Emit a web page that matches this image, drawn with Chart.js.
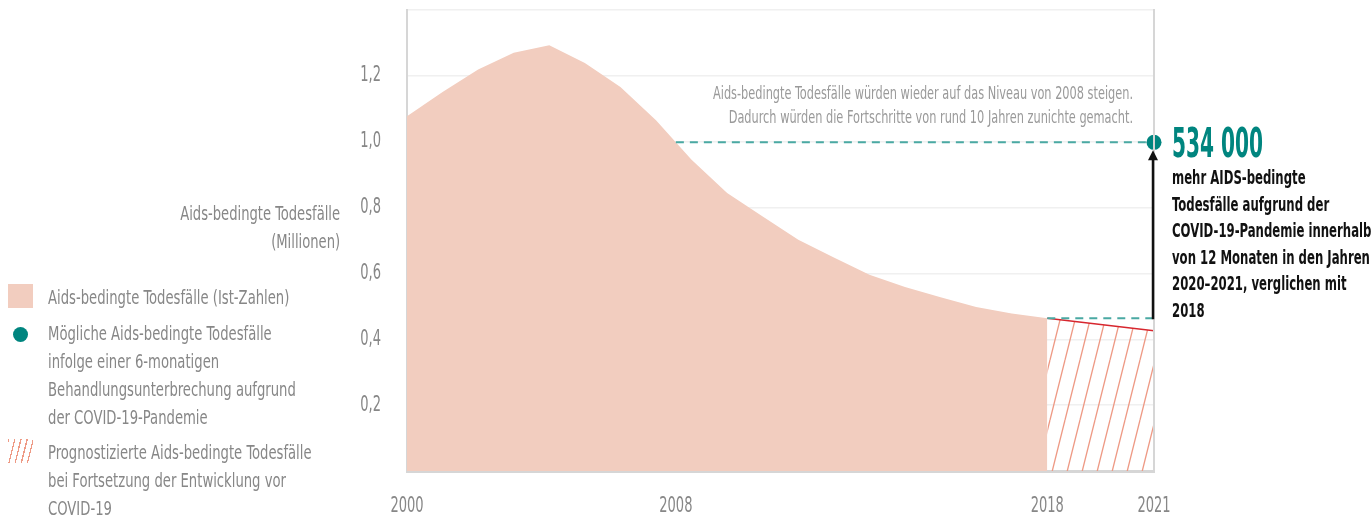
<!DOCTYPE html>
<html lang="de">
<head>
<meta charset="utf-8">
<script src="https://cdn.jsdelivr.net/npm/chart.js@4"></script>
<style>
  html, body { margin: 0; padding: 0; background: #fff; }
  #wrap { position: relative; width: 1372px; height: 517px; overflow: hidden;
          font-family: "DejaVu Sans Condensed", "DejaVu Sans", sans-serif; }
  #wrap canvas { position: absolute; left: 0; top: 0; }
  .t { position: absolute; white-space: nowrap; color: #878787; font-size: 20px; line-height: 28px; }
  .l { transform: scaleX(0.733); transform-origin: left center; }
  .r { transform: scaleX(0.73); transform-origin: right center; text-align: right; }
  .note { font-size: 18px; line-height: 24px; color: #9a9a9a; transform: scaleX(0.70); }
  .big { font-weight: bold; color: #00857f; font-size: 40px; line-height: 40px; transform: scaleX(0.56); }
  .bold { font-weight: bold; color: #111; line-height: 26.6px; transform: scaleX(0.65); }
  .sw { position: absolute; }
</style>
</head>
<body>
<div id="wrap">
  <canvas id="chart" width="1372" height="517"></canvas>

  <div class="t r" style="right:1032px; top:199px;">Aids-bedingte Todesfälle<br>(Millionen)</div>

  <div class="sw" style="left:8px; top:284px; width:25px; height:24px; background:#f2cdbf;"></div>
  <div class="t l" style="left:48px; top:283px;">Aids-bedingte Todesfälle (Ist-Zahlen)</div>

  <div class="sw" style="left:13px; top:327px; width:15px; height:15px; border-radius:50%; background:#00857f;"></div>
  <div class="t l" style="left:48px; top:319px;">Mögliche Aids-bedingte Todesfälle<br>infolge einer 6-monatigen<br>Behandlungsunterbrechung aufgrund<br>der COVID-19-Pandemie</div>

  <div class="sw" style="left:8px; top:439px; width:25px; height:24px; background:repeating-linear-gradient(104deg, #ee9a85 0 1.3px, transparent 1.3px 6px);"></div>
  <div class="t l" style="left:48px; top:438px;">Prognostizierte Aids-bedingte Todesfälle<br>bei Fortsetzung der Entwicklung vor<br>COVID-19</div>

  <div class="t r note" style="right:239px; top:81px;">Aids-bedingte Todesfälle würden wieder auf das Niveau von 2008 steigen.<br>Dadurch würden die Fortschritte von rund 10 Jahren zunichte gemacht.</div>

  <div class="t l big" style="left:1172px; top:123px;">534 000</div>
  <div class="t l bold" style="left:1172px; top:164px;">mehr AIDS-bedingte<br>Todesfälle aufgrund der<br>COVID-19-Pandemie innerhalb<br>von 12 Monaten in den Jahren<br>2020–2021, verglichen mit<br>2018</div>
</div>

<script>
// actual deaths (millions)
const years  = [2000, 2001, 2002, 2003, 2004, 2005, 2006, 2007, 2008, 2009,
                2010, 2011, 2012, 2013, 2014, 2015, 2016, 2017, 2018];
const deaths = [1.077, 1.151, 1.219, 1.270, 1.293, 1.239, 1.166, 1.065, 0.945, 0.844,
                0.773, 0.702, 0.648, 0.596, 0.559, 0.528, 0.498, 0.478, 0.464];

// projection if pre-COVID trend continued
const projYears  = [2018, 2021];
const projDeaths = [0.464, 0.426];

// extra deaths from a 6-month treatment interruption (millions)
const extraDeaths = 0.534;
const extraYear   = 2021;

// axis ticks
const yTicks      = [0.2, 0.4, 0.6, 0.8, 1.0, 1.2];
const xTickLabels = ['2000', '2008', '2018', '2021'];

const baseVal = deaths[deaths.length - 1];
const peakVal = baseVal + extraDeaths;

// where the actual curve last sat at the projected level (the "2008" level)
let crossYear = years[0];
for (let i = 1; i < deaths.length; i++) {
  if (deaths[i - 1] >= peakVal && deaths[i] < peakVal) {
    crossYear = years[i - 1] + (deaths[i - 1] - peakVal) / (deaths[i - 1] - deaths[i]);
  }
}
const xTickValues = [2000, crossYear, 2018, 2021];

/* ── hatch pattern ── */
function hatch() {
  const c = document.createElement('canvas');
  c.width = 15; c.height = 60;
  const g = c.getContext('2d');
  g.strokeStyle = '#ee9a85';
  g.lineWidth = 1.3;
  [-15, 0, 15].forEach(o => {
    g.beginPath();
    g.moveTo(o, 60); g.lineTo(o + 15, 0);
    g.stroke();
  });
  return g.createPattern(c, 'repeat');
}

const FONT = '21px "DejaVu Sans Condensed", "DejaVu Sans", sans-serif';

function label(ctx, txt, x, y, align) {
  ctx.save();
  ctx.translate(x, y);
  ctx.scale(0.69, 1);
  ctx.font = FONT;
  ctx.fillStyle = '#878787';
  ctx.textAlign = align;
  ctx.textBaseline = 'middle';
  ctx.fillText(txt, 0, 0);
  ctx.restore();
}

/* ── right border, arrow, tick labels ── */
const extras = {
  id: 'extras',
  afterDraw(chart) {
    const { ctx, chartArea: a, scales: { x, y } } = chart;
    ctx.save();
    ctx.strokeStyle = '#d6d6d6';
    ctx.lineWidth = 2;
    ctx.beginPath();
    ctx.moveTo(a.right, a.top - 1); ctx.lineTo(a.right, a.bottom + 1);
    ctx.stroke();

    const ax = x.getPixelForValue(extraYear) - 1;
    const y0 = y.getPixelForValue(baseVal);
    const y1 = y.getPixelForValue(peakVal) + 8;
    ctx.strokeStyle = '#111';
    ctx.fillStyle = '#111';
    ctx.lineWidth = 2.5;
    ctx.beginPath();
    ctx.moveTo(ax, y0 + 1); ctx.lineTo(ax, y1 + 8);
    ctx.stroke();
    ctx.beginPath();
    ctx.moveTo(ax, y1); ctx.lineTo(ax - 5, y1 + 10); ctx.lineTo(ax + 5, y1 + 10);
    ctx.closePath(); ctx.fill();
    ctx.restore();

    yTicks.forEach(v => label(ctx, v.toFixed(1).replace('.', ','), a.left - 26, y.getPixelForValue(v), 'right'));
    xTickValues.forEach((v, i) => label(ctx, xTickLabels[i], x.getPixelForValue(v), 507, 'center'));
  }
};

const teal = '#4aa9a3';

new Chart(document.getElementById('chart'), {
  type: 'line',
  data: {
    datasets: [
      {
        type: 'scatter',
        data: [{ x: extraYear, y: peakVal }],
        pointRadius: 7.5, pointHoverRadius: 7.5,
        backgroundColor: '#00857f', borderWidth: 0,
        clip: false,
      },
      {
        data: [{ x: crossYear, y: peakVal }, { x: extraYear, y: peakVal }],
        borderColor: teal, borderWidth: 2, borderDash: [8, 6],
        pointRadius: 0, fill: false,
      },
      {
        data: [{ x: projYears[0], y: baseVal }, { x: extraYear, y: baseVal }],
        borderColor: teal, borderWidth: 2, borderDash: [8, 6],
        pointRadius: 0, fill: false,
      },
      {
        data: projYears.map((v, i) => ({ x: v, y: projDeaths[i] })),
        borderColor: '#d7262e', borderWidth: 1.5,
        backgroundColor: hatch(),
        pointRadius: 0, fill: 'origin',
      },
      {
        data: years.map((v, i) => ({ x: v, y: deaths[i] })),
        borderWidth: 0, borderColor: 'rgba(0,0,0,0)',
        backgroundColor: '#f2cdbf',
        pointRadius: 0, fill: 'origin', tension: 0,
      },
    ],
  },
  options: {
    responsive: false,
    animation: false,
    events: [],
    layout: { padding: { left: 0, right: 218, top: 10, bottom: 0 } },
    plugins: { legend: { display: false }, tooltip: { enabled: false } },
    scales: {
      x: {
        type: 'linear', min: 2000, max: 2021, z: 1,
        grid: { display: false },
        border: { color: '#d6d6d6', width: 3 },
        afterBuildTicks: s => { s.ticks = xTickValues.map(v => ({ value: v })); },
        afterFit: s => { s.height = 46; s.paddingLeft = 0; s.paddingRight = 0; },
        ticks: { display: false },
      },
      y: {
        min: 0, max: 1.4, z: 1,
        grid: { color: 'rgba(228,228,228,0.55)', lineWidth: 1.5, drawTicks: false },
        border: { color: '#d6d6d6', width: 2 },
        afterBuildTicks: s => {
          s.ticks = [0].concat(yTicks, [1.4]).map(v => ({ value: v }));
        },
        afterFit: s => { s.width = 407; s.paddingTop = 0; s.paddingBottom = 0; },
        ticks: { display: false },
      },
    },
  },
  plugins: [extras],
});
</script>
</body>
</html>
